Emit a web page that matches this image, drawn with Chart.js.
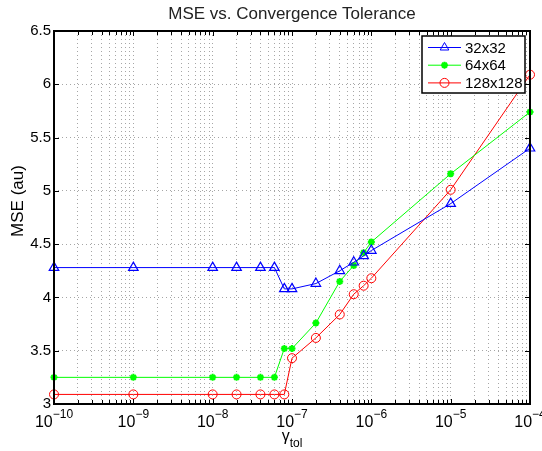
<!DOCTYPE html>
<html>
<head>
<meta charset="utf-8">
<script src="https://cdn.jsdelivr.net/npm/chart.js@4/dist/chart.umd.min.js"></script>
<style>
    html, body { margin: 0; padding: 0; background: #fff; }
</style>
</head>
<body>
<canvas id="chart" width="542" height="451"></canvas>
<script>
// convergence tolerance (x) and MSE for each grid size
const tolValues = [1e-10, 1e-9, 1e-8, 2e-8, 4e-8, 6e-8, 8e-8, 1e-7, 2e-7, 4e-7, 6e-7, 8e-7, 1e-6, 1e-5, 1e-4];
const mse32 = [4.28, 4.28, 4.28, 4.28, 4.28, 4.28, 4.08, 4.08, 4.13, 4.25, 4.33, 4.39, 4.44, 4.88, 5.40];
const mse64 = [3.25, 3.25, 3.25, 3.25, 3.25, 3.25, 3.52, 3.52, 3.76, 4.15, 4.30, 4.42, 4.52, 5.16, 5.74];
const mse128 = [3.09, 3.09, 3.09, 3.09, 3.09, 3.09, 3.09, 3.43, 3.62, 3.84, 4.03, 4.11, 4.18, 5.01, 6.09];
const seriesNames = ["32x32", "64x64", "128x128"];
const seriesColors = ["#0000FF", "#00FF00", "#FF0000"];
const xTickExps = [-10, -9, -8, -7, -6, -5, -4];
const yTickStep = 0.5;
const yMin = 3;
const yMax = 6.5;

const FONT = "'Liberation Sans', Arial, sans-serif";
const GRID = "rgba(0,0,0,0.35)";

// every 1..9 x 10^n position, used for dotted grid
let logTicks = [];
for (let e = xTickExps[0]; e < xTickExps[xTickExps.length - 1]; e++) {
    for (let m = 1; m <= 9; m++) {
        logTicks.push({ value: Number((m * Math.pow(10, e)).toPrecision(3)), major: m === 1 });
    }
}
logTicks.push({ value: Math.pow(10, xTickExps[xTickExps.length - 1]), major: true });

function toPoints(ys) {
    return tolValues.map((x, i) => ({ x: x, y: ys[i] }));
}

function drawMarker(ctx, style, x, y, color) {
    ctx.save();
    ctx.strokeStyle = color;
    ctx.fillStyle = color;
    ctx.lineWidth = 1;
    ctx.beginPath();
    if (style === "triangle") {
        let r = 5;
        ctx.moveTo(x, y - r);
        ctx.lineTo(x + r * 0.866, y + r * 0.5);
        ctx.lineTo(x - r * 0.866, y + r * 0.5);
        ctx.closePath();
        ctx.stroke();
    } else if (style === "circle") {
        ctx.arc(x, y, 4.5, 0, Math.PI * 2);
        ctx.stroke();
    } else {
        let r = 3.5;
        ctx.lineWidth = 2;
        ctx.moveTo(x - r, y); ctx.lineTo(x + r, y);
        ctx.moveTo(x, y - r); ctx.lineTo(x, y + r);
        ctx.moveTo(x - r * 0.7, y - r * 0.7); ctx.lineTo(x + r * 0.7, y + r * 0.7);
        ctx.moveTo(x - r * 0.7, y + r * 0.7); ctx.lineTo(x + r * 0.7, y - r * 0.7);
        ctx.stroke();
    }
    ctx.restore();
}

const matlabFrame = {
    id: "matlabFrame",
    afterDraw(chart) {
        let ctx = chart.ctx;
        let a = chart.chartArea;
        let xs = chart.scales.x;
        let ys = chart.scales.y;
        ctx.save();

        // inward tick marks
        ctx.strokeStyle = "#000";
        ctx.lineWidth = 1;
        ctx.beginPath();
        logTicks.forEach((t) => {
            let px = Math.round(xs.getPixelForValue(t.value)) + 0.5;
            let len = t.major ? 5 : 4;
            ctx.moveTo(px, a.bottom); ctx.lineTo(px, a.bottom - len);
            ctx.moveTo(px, a.top); ctx.lineTo(px, a.top + len);
        });
        for (let v = yMin; v <= yMax + 1e-9; v += yTickStep) {
            let py = Math.round(ys.getPixelForValue(v)) + 0.5;
            ctx.moveTo(a.left, py); ctx.lineTo(a.left + 5, py);
            ctx.moveTo(a.right, py); ctx.lineTo(a.right - 5, py);
        }
        ctx.stroke();

        // axes box
        ctx.lineWidth = 2;
        ctx.strokeRect(a.left, a.top, a.right - a.left, a.bottom - a.top);

        // x tick labels 10^n
        ctx.fillStyle = "#000";
        ctx.textBaseline = "alphabetic";
        xTickExps.forEach((e) => {
            let px = xs.getPixelForValue(Math.pow(10, e));
            ctx.font = "16px " + FONT;
            let baseW = ctx.measureText("10").width;
            ctx.font = "12px " + FONT;
            let sup = "\u2212" + Math.abs(e);
            let supW = ctx.measureText(sup).width;
            let x0 = px - (baseW + supW) / 2;
            ctx.font = "16px " + FONT;
            ctx.textAlign = "left";
            ctx.fillText("10", x0, 427);
            ctx.font = "12px " + FONT;
            ctx.fillText(sup, x0 + baseW, 418);
        });

        // x axis title gamma_tol
        let cx = (a.left + a.right) / 2;
        ctx.font = "16px " + FONT;
        let gW = ctx.measureText("\u03b3").width;
        ctx.font = "12px " + FONT;
        let tW = ctx.measureText("tol").width;
        let gx = cx - (gW + tW) / 2;
        ctx.font = "16px " + FONT;
        ctx.fillText("\u03b3", gx, 441);
        ctx.font = "12px " + FONT;
        ctx.fillText("tol", gx + gW, 447);

        // y axis title
        ctx.save();
        ctx.translate(18, 201);
        ctx.rotate(-Math.PI / 2);
        ctx.font = "17px " + FONT;
        ctx.textAlign = "center";
        ctx.textBaseline = "middle";
        ctx.fillText("MSE (au)", 0, 0);
        ctx.restore();

        // title
        ctx.font = "17px " + FONT;
        ctx.textAlign = "center";
        ctx.fillStyle = "#222";
        ctx.fillText("MSE vs. Convergence Tolerance", cx, 19);

        // legend
        let lx = 422, ly = 36, lw = 103, lh = 57;
        ctx.fillStyle = "#fff";
        ctx.fillRect(lx, ly, lw, lh);
        ctx.strokeStyle = "#000";
        ctx.lineWidth = 1.5;
        ctx.strokeRect(lx, ly, lw, lh);
        let styles = ["triangle", "star", "circle"];
        seriesNames.forEach((name, i) => {
            let ry = 47.5 + i * 17.7;
            ctx.strokeStyle = seriesColors[i];
            ctx.lineWidth = 1;
            ctx.beginPath();
            ctx.moveTo(428, ry); ctx.lineTo(461, ry);
            ctx.stroke();
            drawMarker(ctx, styles[i], 444.5, ry, seriesColors[i]);
            ctx.fillStyle = "#000";
            ctx.font = "15px " + FONT;
            ctx.textAlign = "left";
            ctx.textBaseline = "middle";
            ctx.fillText(name, 465, ry + 1);
        });
        ctx.restore();
    }
};

let ctx = document.getElementById("chart").getContext("2d");
new Chart(ctx, {
    type: "line",
    data: {
        datasets: [
            {
                label: seriesNames[0],
                data: toPoints(mse32),
                borderColor: seriesColors[0],
                backgroundColor: "rgba(0,0,0,0)",
                borderWidth: 1,
                pointStyle: "triangle",
                pointRadius: 5.5,
                pointBorderWidth: 1.2
            },
            {
                label: seriesNames[1],
                data: toPoints(mse64),
                borderColor: seriesColors[1],
                backgroundColor: seriesColors[1],
                borderWidth: 1,
                pointStyle: "star",
                pointRadius: 3.5,
                pointBorderWidth: 2
            },
            {
                label: seriesNames[2],
                data: toPoints(mse128),
                borderColor: seriesColors[2],
                backgroundColor: "rgba(0,0,0,0)",
                borderWidth: 1,
                pointStyle: "circle",
                pointRadius: 4.5,
                pointBorderWidth: 1
            }
        ]
    },
    options: {
        responsive: false,
        animation: false,
        devicePixelRatio: 1,
        clip: false,
        layout: { padding: { top: 31, right: 12, left: 0, bottom: 0 } },
        plugins: {
            legend: { display: false },
            title: { display: false },
            tooltip: { enabled: false }
        },
        elements: { line: { tension: 0 } },
        scales: {
            x: {
                type: "logarithmic",
                min: 1e-10,
                max: 1e-4,
                afterBuildTicks: (scale) => {
                    scale.ticks = logTicks.map((t) => ({ value: t.value }));
                },
                afterFit: (scale) => { scale.height = 47; },
                ticks: { callback: () => "", autoSkip: false, maxRotation: 0 },
                grid: { color: GRID, lineWidth: 1, drawTicks: false },
                border: { display: false, dash: [1, 3] }
            },
            y: {
                min: yMin,
                max: yMax,
                afterFit: (scale) => { scale.width = 54; },
                ticks: {
                    stepSize: yTickStep,
                    color: "#000",
                    padding: 3,
                    font: { family: FONT, size: 15 },
                    callback: (v) => String(v)
                },
                grid: { color: GRID, lineWidth: 1, drawTicks: false },
                border: { display: false, dash: [1, 3] }
            }
        }
    },
    plugins: [matlabFrame]
});
</script>
</body>
</html>
